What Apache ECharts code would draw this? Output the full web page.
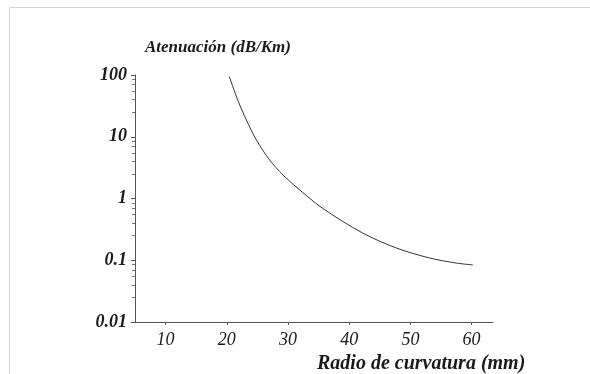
<!DOCTYPE html>
<html>
<head>
<meta charset="utf-8">
<script src="https://cdn.jsdelivr.net/npm/echarts@6/dist/echarts.min.js"></script>
<style>
    html, body { margin: 0; padding: 0; background: #fff; }
    #chart { width: 590px; height: 374px; }
</style>
</head>
<body>
<div id="chart"></div>
<script>
// radius of curvature (mm) vs attenuation (dB/Km)
const radius = [20.4, 21.8, 23.2, 24.8, 27.0, 29.2, 31.3, 35.6, 42.2, 47.7, 53.1, 57.5, 60.2]
const attenuation = [95, 39, 18.7, 9.0, 4.2, 2.4, 1.55, 0.7, 0.276, 0.158, 0.109, 0.09, 0.084]
const xTicks = [10, 20, 30, 40, 50, 60]

const serif = '"Liberation Serif", "DejaVu Serif", serif'
const ink = '#1a1a1a'

const chart = echarts.init(document.getElementById('chart'), null, { renderer: 'canvas' })

chart.setOption({
    animation: false,
    backgroundColor: '#fff',
    grid: { left: 135, right: 97, top: 75, bottom: 52, outerBoundsMode: 'none', containLabel: false },
    graphic: [
        {
            type: 'rect',
            shape: { x: 9.5, y: 7.5, width: 700, height: 500 },
            style: { fill: 'none', stroke: '#d4d4d4', lineWidth: 1 },
            silent: true,
        },
    ],
    xAxis: {
        type: 'value',
        min: 5,
        max: 63.5,
        name: 'Radio de curvatura (mm)',
        nameLocation: 'middle',
        nameGap: 20,
        nameTextStyle: {
            fontFamily: serif,
            fontStyle: 'italic',
            fontWeight: 'bold',
            fontSize: 20,
            color: ink,
            align: 'left',
            verticalAlign: 'top',
            padding: [0, 0, 0, 3],
        },
        axisLine: { lineStyle: { color: '#555', width: 1 } },
        axisTick: { show: true, length: 3, customValues: xTicks, lineStyle: { color: '#555' } },
        axisLabel: {
            customValues: xTicks,
            margin: 9,
            fontFamily: serif,
            fontStyle: 'italic',
            fontSize: 18,
            color: ink,
        },
        splitLine: { show: false },
    },
    yAxis: {
        type: 'log',
        logBase: 10,
        min: 0.01,
        max: 100,
        name: 'Atenuación (dB/Km)',
        nameLocation: 'end',
        nameGap: 19,
        nameTextStyle: {
            fontFamily: serif,
            fontStyle: 'italic',
            fontWeight: 'bold',
            fontSize: 17,
            color: ink,
            align: 'left',
            padding: [0, 0, 0, 10],
        },
        axisLine: { show: true, lineStyle: { color: '#555', width: 1 } },
        axisTick: { show: true, length: 4, lineStyle: { color: '#555' } },
        minorTick: { show: true, splitNumber: 6, length: 3, lineStyle: { color: '#777' } },
        axisLabel: {
            margin: 8,
            fontFamily: serif,
            fontStyle: 'italic',
            fontWeight: 'bold',
            fontSize: 18,
            color: ink,
        },
        splitLine: { show: false },
    },
    series: [
        {
            type: 'line',
            data: radius.map((r, i) => [r, attenuation[i]]),
            smooth: 0.3,
            showSymbol: false,
            lineStyle: { color: '#333', width: 1 },
        },
    ],
})
</script>
</body>
</html>
